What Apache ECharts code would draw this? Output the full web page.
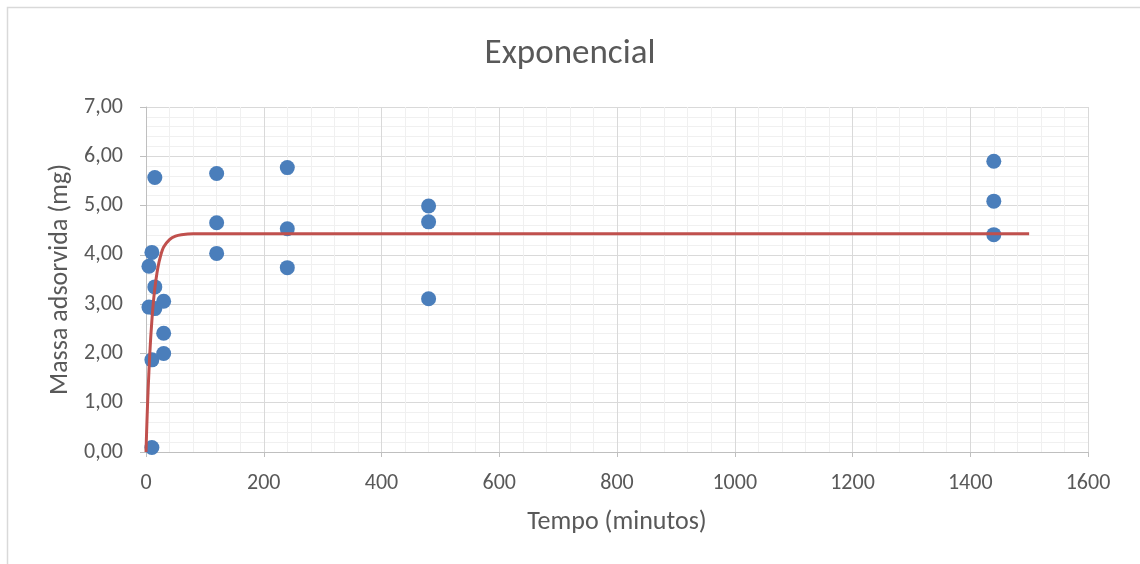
<!DOCTYPE html>
<html>
<head>
<meta charset="utf-8">
<script src="https://cdn.jsdelivr.net/npm/echarts@6/dist/echarts.min.js"></script>
<style>
  html, body { margin: 0; padding: 0; background: #ffffff; }
  #chart { width: 1140px; height: 564px; }
</style>
</head>
<body>
<div id="chart"></div>
<script>
// Observed adsorbed mass (mg) at each sampling time (minutes)
const tempo = [5, 5, 10, 10, 10, 15, 15, 15, 30, 30, 30, 120, 120, 120, 240, 240, 240, 480, 480, 480, 1440, 1440, 1440];
const massa = [3.77, 2.94, 4.05, 1.87, 0.09, 5.57, 3.35, 2.91, 3.06, 2.41, 2.00, 5.65, 4.65, 4.03, 5.77, 4.53, 3.74, 4.99, 4.67, 3.11, 5.90, 5.09, 4.41];

// Fitted exponential curve, sampled along the time axis
const curveT = [0, 1, 2, 3, 4, 5, 6, 7, 8, 10, 12, 15, 20, 25, 30, 40, 50, 60, 80, 100, 150, 1500];
const curveY = [0, 0.39, 0.75, 1.08, 1.37, 1.64, 1.89, 2.11, 2.32, 2.67, 2.97, 3.32, 3.73, 3.99, 4.16, 4.31, 4.38, 4.41, 4.43, 4.43, 4.43, 4.43];

// Axis tick labels
const xTickLabels = ['0', '200', '400', '600', '800', '1000', '1200', '1400', '1600'];
const yTickLabels = ['0,00', '1,00', '2,00', '3,00', '4,00', '5,00', '6,00', '7,00'];

const FONT = "Carlito, 'Liberation Sans Narrow', 'Open Sans', sans-serif";
const TEXT = '#595959';

const scatterData = tempo.map((t, i) => [t, massa[i]]);
const curveData = curveT.map((t, i) => [t, curveY[i]]);

const chart = echarts.init(document.getElementById('chart'), null, { renderer: 'canvas' });

chart.setOption({
  backgroundColor: '#ffffff',
  animation: false,
  graphic: [{
    type: 'rect',
    shape: { x: 7.5, y: 7.5, width: 1200, height: 600 },
    style: { fill: 'none', stroke: '#d9d9d9', lineWidth: 1.5 },
    silent: true,
    z: -10
  }],
  title: {
    text: 'Exponencial',
    left: 'center',
    top: 32,
    textStyle: { fontFamily: FONT, fontSize: 35, fontWeight: 'normal', color: TEXT }
  },
  grid: { left: 146, top: 107, width: 942, height: 345, containLabel: false },
  xAxis: {
    type: 'value',
    min: 0, max: 1600, interval: 200,
    name: 'Tempo (minutos)',
    nameLocation: 'middle',
    nameGap: 57,
    nameTextStyle: { fontFamily: FONT, fontSize: 26, color: TEXT },
    axisLine: { show: true, lineStyle: { color: '#bfbfbf', width: 1 } },
    axisTick: { show: true, length: 5, lineStyle: { color: '#bfbfbf' } },
    axisLabel: {
      margin: 20,
      fontFamily: FONT, fontSize: 22, color: TEXT,
      formatter: (v) => xTickLabels[Math.round(v / 200)]
    },
    splitLine: { show: true, lineStyle: { color: '#d9d9d9', width: 1 } },
    minorTick: { show: false, splitNumber: 5 },
    minorSplitLine: { show: true, lineStyle: { color: '#f0f0f0', width: 1 } }
  },
  yAxis: {
    type: 'value',
    min: 0, max: 7, interval: 1,
    name: 'Massa adsorvida (mg)',
    nameLocation: 'middle',
    nameGap: 73,
    nameTextStyle: { fontFamily: FONT, fontSize: 26, color: TEXT },
    axisLine: { show: true, lineStyle: { color: '#bfbfbf', width: 1 } },
    axisTick: { show: true, length: 6, lineStyle: { color: '#bfbfbf' } },
    axisLabel: {
      margin: 23,
      fontFamily: FONT, fontSize: 22, color: TEXT,
      formatter: (v) => yTickLabels[Math.round(v)]
    },
    splitLine: { show: true, lineStyle: { color: '#d9d9d9', width: 1 } },
    minorTick: { show: false, splitNumber: 5 },
    minorSplitLine: { show: true, lineStyle: { color: '#f0f0f0', width: 1 } }
  },
  series: [
    {
      name: 'Massa adsorvida',
      type: 'scatter',
      data: scatterData,
      symbol: 'circle',
      symbolSize: 15,
      itemStyle: { color: '#4a7ebb', opacity: 1 },
      z: 3
    },
    {
      name: 'Exponencial',
      type: 'line',
      data: curveData,
      smooth: 0.3,
      showSymbol: false,
      symbol: 'none',
      lineStyle: { color: '#c0504d', width: 3 },
      z: 4
    }
  ]
});
</script>
</body>
</html>
